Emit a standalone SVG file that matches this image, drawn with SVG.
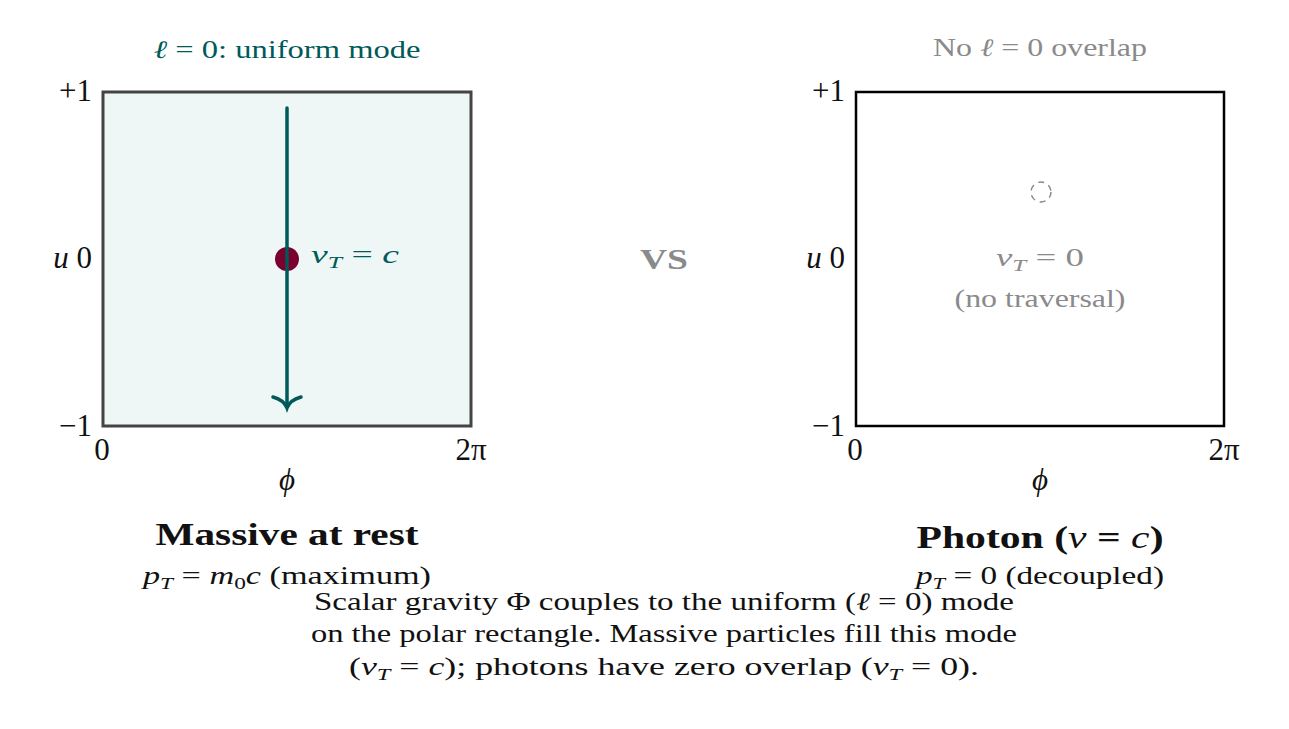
<svg xmlns="http://www.w3.org/2000/svg" width="1289" height="729" viewBox="0 0 1289 729">
<style>
text{font-family:"Liberation Serif","DejaVu Serif",serif;fill:#111}
.t{font-size:31px}
.s{font-size:25px}
.h{font-size:31px;font-weight:bold}
.i{font-style:italic}
.teal{fill:#005a5a}
.gray{fill:#8a8a8a}
.arrow{fill:none;stroke:#005a5a;stroke-width:3.5;stroke-linecap:round}
</style>
<rect width="1289" height="729" fill="#fff"/>
<g id="left">
<text x="287" y="58" text-anchor="middle" class="s teal" textLength="267" lengthAdjust="spacingAndGlyphs"><tspan class="i">ℓ</tspan> = 0:  uniform mode</text>
<rect x="103" y="92" width="368" height="334" fill="#eef7f5" stroke="#444" stroke-width="3"/>
<text x="92" y="101" text-anchor="end" class="t">+1</text>
<text x="92" y="268" text-anchor="end" class="t"><tspan class="i">u</tspan> 0</text>
<text x="92" y="436" text-anchor="end" class="t">−1</text>
<text x="102" y="460" text-anchor="middle" class="t">0</text>
<text x="471" y="460" text-anchor="middle" class="t">2π</text>
<text x="287" y="490" text-anchor="middle" class="t i">ϕ</text>
<circle cx="287" cy="259" r="12" fill="#7a0030"/>
<text x="311" y="263" class="s teal" textLength="88" lengthAdjust="spacingAndGlyphs"><tspan class="i">v</tspan><tspan class="i" font-size="17" dy="5">T</tspan><tspan dy="-5"> = </tspan><tspan class="i">c</tspan></text>
<text x="287" y="545" text-anchor="middle" class="h" textLength="263" lengthAdjust="spacingAndGlyphs">Massive at rest</text>
<text x="287" y="584" text-anchor="middle" class="s" textLength="288" lengthAdjust="spacingAndGlyphs"><tspan class="i">p</tspan><tspan class="i" font-size="17" dy="5">T</tspan><tspan dy="-5"> = </tspan><tspan class="i">m</tspan><tspan font-size="17" dy="5">0</tspan><tspan class="i" dy="-5">c</tspan> (maximum)</text>
</g>
<g id="connectors">
<line x1="287" y1="108" x2="287" y2="406" class="arrow"/>
<path d="M273,397 Q284,400 287,408 Q290,400 301,397" class="arrow"/>
</g>
<g id="vs"><text x="664" y="269" text-anchor="middle" class="gray" font-weight="bold" font-size="30" textLength="48" lengthAdjust="spacingAndGlyphs">VS</text></g>
<g id="right">
<text x="1040" y="56" text-anchor="middle" class="s gray" textLength="214" lengthAdjust="spacingAndGlyphs">No <tspan class="i">ℓ</tspan> = 0 overlap</text>
<rect x="856" y="92" width="368" height="334" fill="#fff" stroke="#000" stroke-width="2.5"/>
<text x="845" y="101" text-anchor="end" class="t">+1</text>
<text x="845" y="268" text-anchor="end" class="t"><tspan class="i">u</tspan> 0</text>
<text x="845" y="436" text-anchor="end" class="t">−1</text>
<text x="855" y="460" text-anchor="middle" class="t">0</text>
<text x="1224" y="460" text-anchor="middle" class="t">2π</text>
<text x="1040" y="490" text-anchor="middle" class="t i">ϕ</text>
<circle cx="1041" cy="192" r="10" fill="none" stroke="#888" stroke-width="1.5" stroke-dasharray="6,5"/>
<text x="1040" y="266" text-anchor="middle" class="s gray" textLength="88" lengthAdjust="spacingAndGlyphs"><tspan class="i">v</tspan><tspan class="i" font-size="17" dy="5">T</tspan><tspan dy="-5"> = 0</tspan></text>
<text x="1040" y="307" text-anchor="middle" class="s gray" textLength="171" lengthAdjust="spacingAndGlyphs">(no traversal)</text>
<text x="1040" y="548" text-anchor="middle" class="h" textLength="247" lengthAdjust="spacingAndGlyphs">Photon (<tspan class="i" font-weight="normal">v</tspan> = <tspan class="i" font-weight="normal">c</tspan>)</text>
<text x="1040" y="584" text-anchor="middle" class="s" textLength="248" lengthAdjust="spacingAndGlyphs"><tspan class="i">p</tspan><tspan class="i" font-size="17" dy="5">T</tspan><tspan dy="-5"> = 0 (decoupled)</tspan></text>
</g>
<g id="caption">
<text x="664" y="610" text-anchor="middle" class="s" textLength="700" lengthAdjust="spacingAndGlyphs">Scalar gravity Φ couples to the uniform (<tspan class="i">ℓ</tspan> = 0) mode</text>
<text x="664" y="642" text-anchor="middle" class="s" textLength="706" lengthAdjust="spacingAndGlyphs">on the polar rectangle. Massive particles fill this mode</text>
<text x="664" y="675" text-anchor="middle" class="s" textLength="630" lengthAdjust="spacingAndGlyphs">(<tspan class="i">v</tspan><tspan class="i" font-size="17" dy="5">T</tspan><tspan dy="-5">  =  </tspan><tspan class="i">c</tspan>); photons have zero overlap (<tspan class="i">v</tspan><tspan class="i" font-size="17" dy="5">T</tspan><tspan dy="-5">  =  0).</tspan></text>
</g>
</svg>
